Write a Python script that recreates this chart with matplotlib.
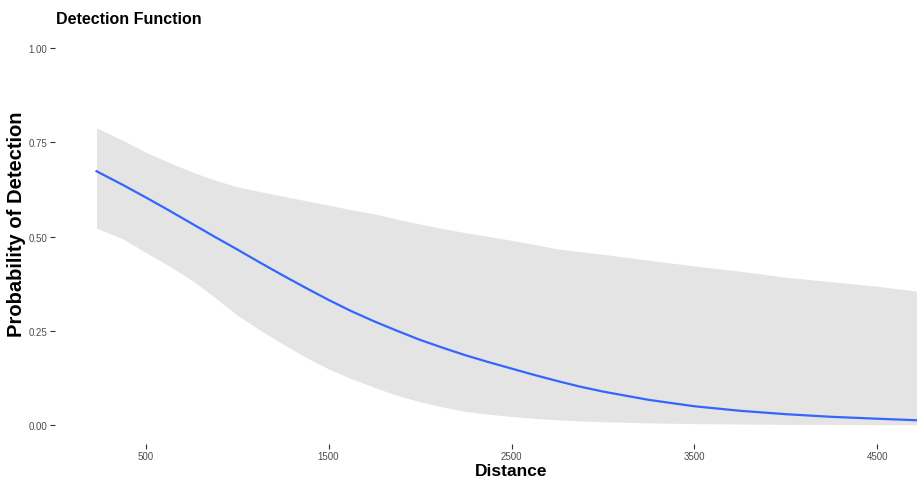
import matplotlib
matplotlib.use("Agg")
import matplotlib.pyplot as plt

# fitted detection curve with its confidence band
distance = [232, 375, 500, 625, 750, 875, 1000, 1125, 1250, 1375, 1500, 1625,
            1750, 1875, 2000, 2125, 2250, 2375, 2500, 2625, 2750, 2875, 3000,
            3250, 3500, 3750, 4000, 4250, 4500, 4768]
prob = [0.673, 0.637, 0.604, 0.570, 0.535, 0.500, 0.466, 0.431, 0.397, 0.364,
        0.332, 0.302, 0.275, 0.250, 0.226, 0.205, 0.185, 0.167, 0.150, 0.133,
        0.117, 0.102, 0.089, 0.067, 0.050, 0.038, 0.029, 0.022, 0.017, 0.012]
upper = [0.788, 0.755, 0.724, 0.697, 0.672, 0.650, 0.632, 0.619, 0.607, 0.595,
         0.583, 0.571, 0.560, 0.546, 0.533, 0.521, 0.510, 0.500, 0.490, 0.479,
         0.467, 0.460, 0.453, 0.437, 0.422, 0.408, 0.392, 0.380, 0.368, 0.352]
lower = [0.522, 0.494, 0.458, 0.423, 0.385, 0.340, 0.292, 0.252, 0.215, 0.180,
         0.149, 0.123, 0.100, 0.079, 0.062, 0.048, 0.036, 0.029, 0.023, 0.018,
         0.014, 0.011, 0.009, 0.006, 0.004, 0.003, 0.002, 0.002, 0.001, 0.001]

xticks = [500, 1500, 2500, 3500, 4500]
yticks = [0.0, 0.25, 0.5, 0.75, 1.0]
ylabels = ["0.00", "0.25", "0.50", "0.75", "1.00"]

plt.rcParams['font.family'] = ['Liberation Sans', 'DejaVu Sans']

W, H = 917, 481
fig = plt.figure(figsize=(W / 100, H / 100), dpi=100)
# panel runs past the right edge, like the cropped original
ax = fig.add_axes([55 / W, (H - 445) / H, (968 - 55) / W, (445 - 30) / H])

ax.fill_between(distance, lower, upper, color='#e4e4e4', linewidth=0)
ax.plot(distance, prob, color='#3366FF', linewidth=1.6)

ax.set_xlim(5, 4995)
ax.set_ylim(-0.05, 1.05)
ax.set_xticks(xticks)
ax.set_xticklabels([str(t) for t in xticks])
ax.set_yticks(yticks)
ax.set_yticklabels(ylabels)
ax.tick_params(length=3.5, width=0.8, color='#333333', labelsize=7,
               labelcolor='#4d4d4d', pad=2)
ax.tick_params(axis='x', pad=1.5)
for s in ax.spines.values():
    s.set_visible(False)

fig.text(56 / W, 1 - 19 / H, "Detection Function", fontsize=11.5,
         fontweight='bold', ha='left', va='center')
fig.text(511 / W, 1 - 471.5 / H, "Distance", fontsize=12.5, fontweight='bold',
         ha='center', va='center')
fig.text(17 / W, 1 - 224 / H, "Probability of Detection", fontsize=14.5,
         fontweight='bold', rotation=90, ha='center', va='center')

fig.savefig("out.png", dpi=100)
